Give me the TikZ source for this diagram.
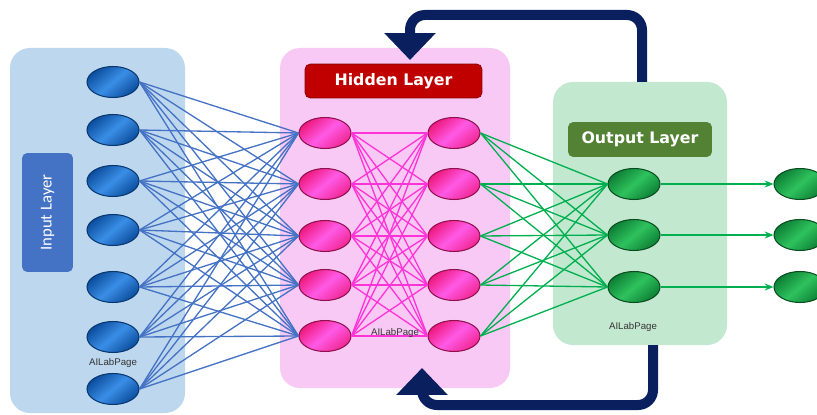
\documentclass[tikz,border=0pt]{standalone}
\usepackage{fontspec}
\setmainfont{Liberation Sans}
\newfontfamily\headfont{DejaVu Sans}
\newfontfamily\sidefont{Carlito}
\usetikzlibrary{shapes.geometric,arrows.meta}

\definecolor{inbox}{HTML}{BDD7EE}
\definecolor{inhead}{HTML}{4472C4}
\definecolor{inlight}{HTML}{3A8EE6}
\definecolor{indark}{HTML}{0C4E9E}
\definecolor{hidbox}{HTML}{F9C9F6}
\definecolor{hidhead}{HTML}{C00000}
\definecolor{hidlight}{HTML}{FF5AE6}
\definecolor{hiddark}{HTML}{EE1A7E}
\definecolor{outbox}{HTML}{C3E8D0}
\definecolor{outhead}{HTML}{548235}
\definecolor{outlight}{HTML}{2FC25E}
\definecolor{outdark}{HTML}{0D8035}
\definecolor{inlink}{HTML}{4472C4}
\definecolor{hidlink}{HTML}{FF33D6}
\definecolor{outlink}{HTML}{00B050}
\definecolor{navy}{HTML}{0A1F5E}

\begin{document}
\begin{tikzpicture}[x=0.02cm, y=-0.02cm,
	neuron/.style={ellipse, line width=0.6pt, minimum width=1.04cm, minimum height=0.62cm, inner sep=0pt},
	inneuron/.style={neuron, draw=indark!70!black, top color=indark, bottom color=indark, middle color=inlight, shading angle=40},
	hidneuron/.style={neuron, draw=hiddark!60!black, top color=hiddark, bottom color=hiddark!80!hidlight, middle color=hidlight, shading angle=40},
	outneuron/.style={neuron, draw=outdark!60!black, top color=outdark, bottom color=outdark, middle color=outlight, shading angle=40},
	layerbox/.style={rounded corners=0.4cm},
	headbox/.style={rounded corners=3pt, text=white, inner sep=0pt},
	tag/.style={font=\fontsize{5.5}{6}\selectfont, text=black!80},
	feedback/.style={draw=navy, line width=0.2cm, rounded corners=0.3cm, -{Triangle[width=1cm, length=0.54cm]}}]

	\useasboundingbox (0,0) rectangle (817,415);

	\fill [layerbox, inbox] (10,48) rectangle (185,413);
	\fill [layerbox, hidbox] (280,48) rectangle (510,388);
	\fill [layerbox, outbox] (553,82) rectangle (727,345);

	\node [headbox, fill=inhead, rotate=90, minimum width=2.38cm, minimum height=1.02cm, font=\sidefont\fontsize{9.5}{11}\selectfont] (inlabel) at (47.5,212.5) {Input Layer};
	\node [headbox, fill=hidhead, draw=hidhead!70!black, minimum width=3.54cm, minimum height=0.68cm, font=\headfont\bfseries\fontsize{9}{11}\selectfont] (hidlabel) at (393.5,81) {Hidden Layer};
	\node [headbox, fill=outhead, minimum width=2.88cm, minimum height=0.7cm, font=\headfont\bfseries\fontsize{9}{11}\selectfont] (outlabel) at (640,139.5) {Output Layer};

	\foreach \y [count=\i] in {82,130,181,230,287,337,389}
		\node [inneuron] (in\i) at (113,\y) {};
	\foreach \y [count=\i] in {133,184,236,285,336} {
		\node [hidneuron] (ha\i) at (325,\y) {};
		\node [hidneuron] (hb\i) at (454,\y) {};
	}
	\foreach \y [count=\i] in {184,235,287} {
		\node [outneuron] (out\i) at (634,\y) {};
		\node [outneuron] (res\i) at (800,\y) {};
	}

	\foreach \i in {1,...,7}
		\foreach \j in {1,...,5}
			\draw [inlink, line width=0.75pt] (in\i.east) -- (ha\j.west);
	\foreach \i in {1,...,5}
		\foreach \j in {1,...,5}
			\draw [hidlink, line width=0.75pt] (ha\i.east) -- (hb\j.west);
	\foreach \i in {1,...,5}
		\foreach \j in {1,...,3}
			\draw [outlink, line width=0.75pt] (hb\i.east) -- (out\j.west);
	\foreach \i in {1,...,3}
		\draw [outlink, line width=0.75pt, -{Stealth[length=5pt, width=4pt]}] (out\i.east) -- (res\i.west);

	\node [tag] (tagin) at (113,363) {AILabPage};
	\node [tag] (taghid) at (395,333) {AILabPage};
	\node [tag] (tagout) at (633,327) {AILabPage};

	\coordinate (topstart) at (642,82);
	\coordinate (toptip) at (410,60);
	\coordinate (botstart) at (653,345);
	\coordinate (bottip) at (422,368);
	\draw [feedback] (topstart) |- (410,15) -- (toptip);
	\draw [feedback] (botstart) |- (422,405) -- (bottip);

\end{tikzpicture}
\end{document}
